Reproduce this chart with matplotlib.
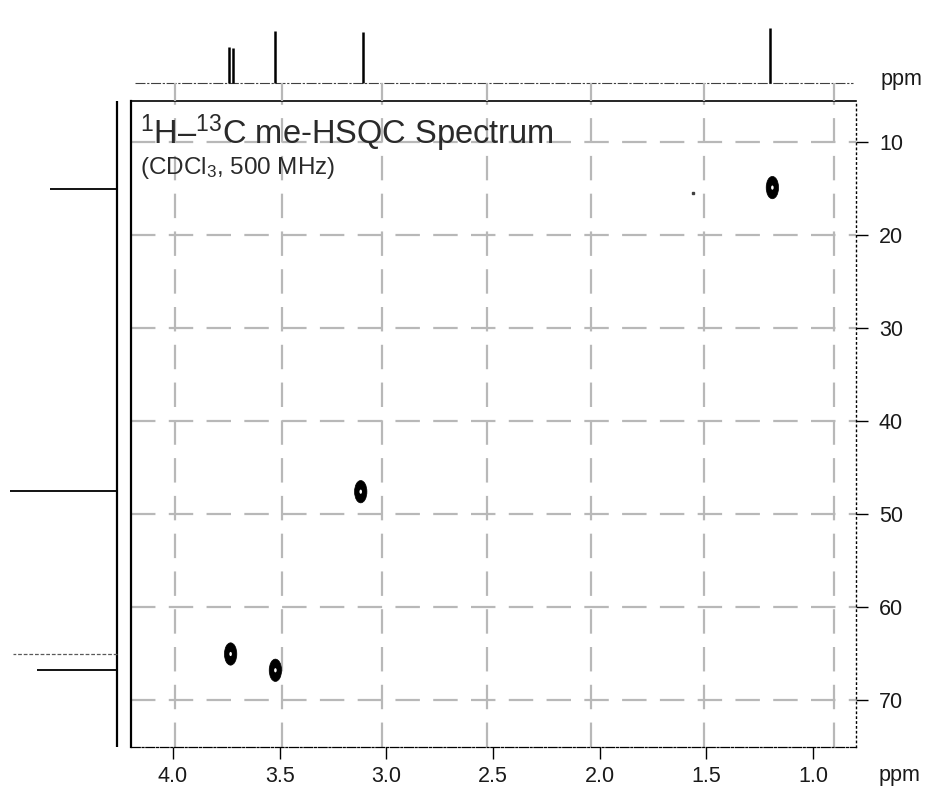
import matplotlib
matplotlib.use("Agg")
import matplotlib.pyplot as plt
from matplotlib.patches import Ellipse

plt.rcParams["font.family"] = ["Liberation Sans", "DejaVu Sans"]
plt.rcParams["mathtext.fontset"] = "custom"
plt.rcParams["mathtext.rm"] = "Liberation Sans"
plt.rcParams["mathtext.it"] = "Liberation Sans:italic"

# 1H projection (top): shift in ppm, relative height
h_peaks = [3.738, 3.721, 3.52, 3.11, 1.20]
h_heights = [0.65, 0.64, 0.95, 0.93, 1.00]

# 13C projection (left): shift in ppm, relative height
c_peaks = [15.0, 47.5, 65.1, 66.8]
c_heights = [0.63, 1.00, 0.97, 0.75]

# HSQC cross peaks (1H ppm, 13C ppm)
cross_h = [3.73, 3.52, 3.12, 1.19]
cross_c = [65.05, 66.8, 47.6, 14.9]
artifact_h, artifact_c = 1.56, 15.5

x_ticks = [4.0, 3.5, 3.0, 2.5, 2.0, 1.5, 1.0]
y_ticks = [10, 20, 30, 40, 50, 60, 70]
# dashed overlay grid (slightly off the ticks in the original)
grid_x = [3.99, 3.49, 3.02, 2.53, 2.04, 1.51, 0.90]
grid_y = [10, 20, 30, 40, 50, 60, 70]

W, H = 928, 792
def rect(x0, y0, x1, y1):
    return [x0 / W, 1 - y1 / H, (x1 - x0) / W, (y1 - y0) / H]

fig = plt.figure(figsize=(W / 100, H / 100), dpi=100)
ax = fig.add_axes(rect(131, 101, 856, 747))
ax_top = fig.add_axes(rect(131, 10, 856, 101))
ax_left = fig.add_axes(rect(0, 101, 131, 747))

xlim = (4.197, 0.798)
ylim = (75.05, 5.59)
grid_kw = dict(color="#b8b8b8", lw=1.6, linestyle=(0, (11, 6)), zorder=1)

# main panel
ax.set_xlim(*xlim)
ax.set_ylim(*ylim)
for gx in grid_x:
    ax.axvline(gx, **grid_kw)
for gy in grid_y:
    ax.axhline(gy, **grid_kw)

for h, c in zip(cross_h, cross_c):
    ax.add_patch(Ellipse((h, c), 0.058, 2.4, facecolor="black", edgecolor="black", lw=0.5, zorder=3))
    ax.add_patch(Ellipse((h, c), 0.012, 0.45, facecolor="white", edgecolor="none", zorder=4))
ax.plot([artifact_h], [artifact_c], marker="s", ms=1.8, color="0.25", zorder=3)

ax.set_xticks(x_ticks)
ax.set_xticklabels([f"{v:.1f}" for v in x_ticks])
ax.set_yticks(y_ticks)
ax.yaxis.tick_right()
ax.tick_params(axis="both", direction="out", length=8.5, width=1, color="black",
               labelsize=15.5, labelcolor="#1a1a1a")
ax.tick_params(axis="x", pad=5)
ax.tick_params(axis="y", pad=8)

ax.spines["top"].set_linewidth(1.2)
ax.spines["left"].set_linewidth(1.6)
ax.spines["right"].set_linewidth(1.0)
ax.spines["right"].set_linestyle((0, (1, 2.5)))
ax.spines["bottom"].set_linewidth(0.9)
ax.spines["bottom"].set_linestyle((0, (7, 1.5, 1.5, 1.5)))

ax.text(0.012, 0.950, r"$^{1}$H–$^{13}$C me-HSQC Spectrum", transform=ax.transAxes,
        fontsize=23.5, color="#2a2a2a", va="center", ha="left")
ax.text(0.012, 0.897, r"(CDCl$_3$, 500 MHz)", transform=ax.transAxes,
        fontsize=17.5, color="#2a2a2a", va="center", ha="left")

# top 1H projection
ax_top.set_xlim(*xlim)
ax_top.set_ylim(-0.327, 1.327)
ax_top.axis("off")
ax_top.hlines(0, 4.18, 0.81, color="0.25", lw=0.8, linestyle=(0, (9, 1.5, 2, 1.5)))
ax_top.vlines(h_peaks, 0, h_heights, color="black", lw=1.8)
ax_top.vlines(grid_x, -0.327, 0, color="#b8b8b8", lw=1.6)

# left 13C projection
ax_left.set_ylim(*ylim)
ax_left.set_xlim(1.093, -0.131)
ax_left.axis("off")
ax_left.axvline(0, color="black", lw=1.6)
for c, h in zip(c_peaks, c_heights):
    if c == 65.1:
        ax_left.hlines(c, 0, h, color="0.35", lw=0.9, linestyle=(0, (3, 1.5)))
    else:
        ax_left.hlines(c, 0, h, color="black", lw=1.3)

fig.text(900 / W, 1 - 776 / H, "ppm", fontsize=15.5, color="#1a1a1a", ha="center", va="center")
fig.text(902 / W, 1 - 79 / H, "ppm", fontsize=15.5, color="#1a1a1a", ha="center", va="center")

fig.savefig("out.png", dpi=100)
